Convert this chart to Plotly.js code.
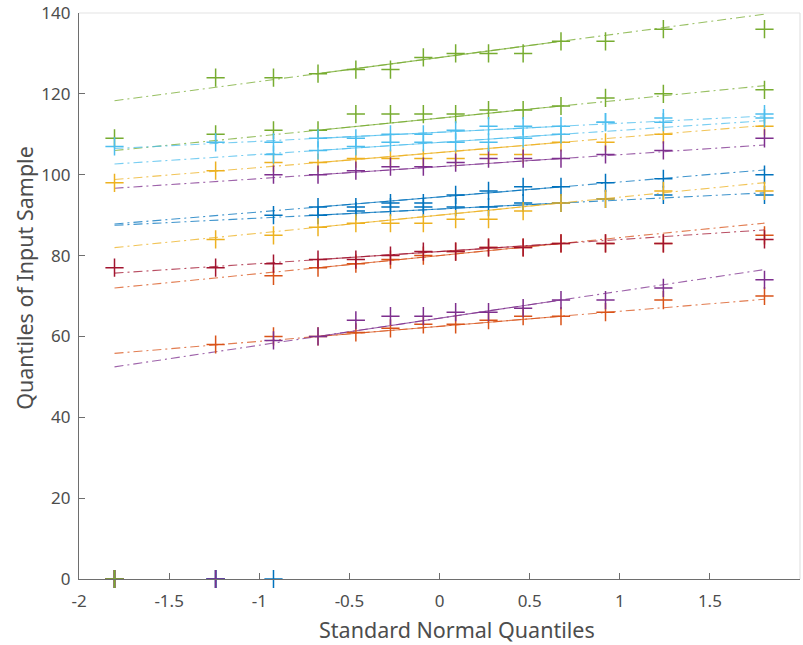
<!DOCTYPE html>
<html>
<head>
<meta charset="utf-8">
<script src="https://cdn.plot.ly/plotly-3.0.1.min.js"></script>
<style>html,body{margin:0;padding:0;background:#fff;}#chart{width:803px;height:645px;}</style>
</head>
<body>
<div id="chart"></div>
<script>
// Standard normal quantiles of the 14 sorted samples (x positions)
const qx = [-1.803, -1.242, -0.921, -0.674, -0.464, -0.272, -0.0896, 0.0896, 0.272, 0.464, 0.674, 0.921, 1.242, 1.803];

// Sorted sample values per column
const blueA   = [0, 0, 90, 92, 92, 93, 93, 95, 96, 97, 97, 98, 99, 100];
const orangeA = [0, 0, 75, 77, 78, 79, 80, 81, 82, 82, 83, 83, 83, 85];
const yellowA = [98, 101, 103, 103, 104, 104, 104, 104, 105, 105, 108, 108, 110, 112];
const purpleA = [0, 0, 100, 100, 101, 102, 102, 103, 104, 104, 104, 105, 106, 109];
const greenA  = [109, 110, 111, 111, 115, 115, 115, 115, 116, 116, 117, 119, 120, 121];
const lblueA  = [0, 0, 105, 106, 107, 108, 108, 108, 108, 109, 110, 113, 113, 114];
const redA    = [77, 77, 78, 79, 79, 80, 81, 81, 82, 82, 83, 83, 83, 84];
const blueB   = [0, 0, 0, 90, 91, 92, 92, 92, 92, 93, 93, 94, 95, 95];
const orangeB = [0, 58, 60, 60, 61, 62, 63, 63, 64, 65, 65, 66, 69, 70];
const yellowB = [0, 84, 85, 87, 88, 88, 88, 89, 89, 91, 93, 94, 96, 96];
const purpleB = [0, 0, 59, 60, 64, 65, 65, 66, 66, 67, 69, 69, 72, 74];
const greenB  = [0, 124, 124, 125, 126, 126, 129, 130, 130, 130, 133, 133, 136, 136];
const lblueB  = [107, 108, 108, 109, 109, 110, 110, 111, 112, 112, 112, 113, 114, 115];

const columns = [blueA, orangeA, yellowA, purpleA, greenA, lblueA, redA,
                 blueB, orangeB, yellowB, purpleB, greenB, lblueB];
const colors = ['#0072BD', '#D95319', '#EDB120', '#7E2F8E', '#77AC30', '#4DBEEE', '#A2142F',
                '#0072BD', '#D95319', '#EDB120', '#7E2F8E', '#77AC30', '#4DBEEE'];

// tick labels (hyphen-minus as in the reference)
const xTickVals = [-2, -1.5, -1, -0.5, 0, 0.5, 1, 1.5, 2];
const xTickText = ['-2', '-1.5', '-1', '-0.5', '0', '0.5', '1', '1.5', '2'];
const yTickVals = [0, 20, 40, 60, 80, 100, 120, 140];
const xTitle = 'Standard Normal Quantiles';
const yTitle = 'Quantiles of Input Sample';

const lineTraces = [];
const markerTraces = [];
const n = qx.length;
// MATLAB-style quartile samples for n = 14 (25th and 75th percentiles)
const i1 = 3, i3 = 10;
columns.forEach((col, k) => {
  const c = colors[k];
  const slope = (col[i3] - col[i1]) / (qx[i3] - qx[i1]);
  const f = x => col[i1] + slope * (x - qx[i1]);
  lineTraces.push({
    x: [qx[0], qx[n - 1]], y: [f(qx[0]), f(qx[n - 1])],
    mode: 'lines', type: 'scatter', hoverinfo: 'skip', showlegend: false,
    opacity: 0.75,
    line: {color: c, width: 1.1, dash: '9px,4px,2px,4px'}
  });
  lineTraces.push({
    x: [qx[i1], qx[i3]], y: [col[i1], col[i3]],
    mode: 'lines', type: 'scatter', hoverinfo: 'skip', showlegend: false,
    opacity: 0.75,
    line: {color: c, width: 1.1}
  });
  markerTraces.push({
    x: qx, y: col, mode: 'markers', type: 'scatter', showlegend: false,
    cliponaxis: false,
    marker: {symbol: 'cross-thin', size: 13, color: c, line: {color: c, width: 1.5}}
  });
});

const fontFam = '"Noto Sans", "Open Sans", "DejaVu Sans", sans-serif';
const txtColor = '#4d4d4d';
const layout = {
  width: 803, height: 645,
  margin: {l: 79, r: 3, t: 13, b: 66},
  paper_bgcolor: '#ffffff', plot_bgcolor: '#ffffff',
  font: {family: fontFam, color: txtColor, size: 17},
  showlegend: false,
  xaxis: {
    range: [-2, 2], tickmode: 'array', tickvals: xTickVals, ticktext: xTickText,
    ticks: 'inside', ticklen: 6, tickcolor: '#6e6e6e', tickwidth: 1,
    ticklabelstandoff: 6,
    showgrid: false, zeroline: false, showline: true, linecolor: '#6e6e6e', linewidth: 1.2,
    tickfont: {size: 17, color: txtColor}
  },
  yaxis: {
    range: [0, 140], tickmode: 'array', tickvals: yTickVals,
    ticks: 'inside', ticklen: 6, tickcolor: '#6e6e6e', tickwidth: 1,
    ticklabelstandoff: 4,
    showgrid: false, zeroline: false, showline: true, linecolor: '#6e6e6e', linewidth: 1.2,
    tickfont: {size: 17, color: txtColor}
  },
  annotations: [
    {text: xTitle, xref: 'paper', yref: 'paper', x: 0.524, y: -0.089,
     xanchor: 'center', yanchor: 'middle', showarrow: false, borderpad: 0,
     font: {size: 21.5, color: txtColor}},
    {text: yTitle, xref: 'paper', yref: 'paper', x: -0.075, y: 0.532, textangle: -90,
     xanchor: 'center', yanchor: 'middle', showarrow: false, borderpad: 0,
     font: {size: 21.5, color: txtColor}}
  ],
  shapes: [
    {type: 'line', xref: 'paper', yref: 'paper', x0: 0, x1: 1, y0: 1, y1: 1, line: {color: '#e3e3e3', width: 1.2}},
    {type: 'line', xref: 'paper', yref: 'paper', x0: 1, x1: 1, y0: 0, y1: 1, line: {color: '#e3e3e3', width: 1.2}}
  ]
};

Plotly.newPlot('chart', lineTraces.concat(markerTraces), layout, {displayModeBar: false, staticPlot: true});
</script>
</body>
</html>
